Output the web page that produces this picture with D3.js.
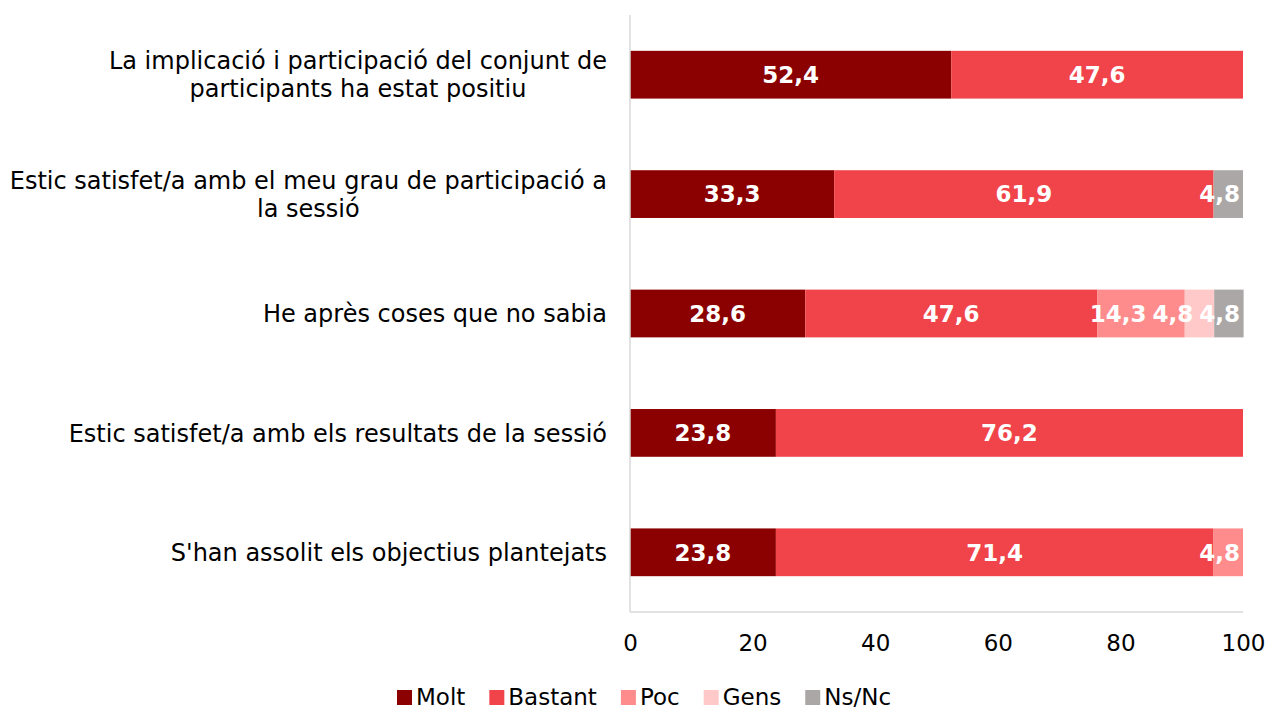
<!DOCTYPE html>
<html>
<head>
    <meta charset="utf-8">
    <title>Valoració de la sessió</title>
    <script src="https://cdnjs.cloudflare.com/ajax/libs/d3/7.8.5/d3.min.js"></script>
    <style>
        body { margin: 0; background: #fff; font-family: "DejaVu Sans", Verdana, sans-serif; }
        .cat-label { font-size: 24px; fill: #000; }
        .val-label { font-size: 23px; font-weight: bold; fill: #fff; }
        .tick text { font-size: 23px; fill: #000; font-family: "DejaVu Sans", sans-serif; }
        .legend-text { font-size: 23px; fill: #000; }
    </style>
</head>
<body>
    <div id="chart"></div>
    <script>
        // Categories (top to bottom) and series values (%)
        const categories = [
            ["La implicació i participació del conjunt de", "participants ha estat positiu"],
            ["Estic satisfet/a amb el meu grau de participació a", "la sessió"],
            ["He après coses que no sabia"],
            ["Estic satisfet/a amb els resultats de la sessió"],
            ["S'han assolit els objectius plantejats"]
        ];
        const seriesNames = ["Molt", "Bastant", "Poc", "Gens", "Ns/Nc"];
        const seriesColors = ["#8b0000", "#f0444a", "#ff8c8c", "#ffc9c9", "#aba7a7"];
        const molt    = [52.4, 33.3, 28.6, 23.8, 23.8];
        const bastant = [47.6, 61.9, 47.6, 76.2, 71.4];
        const poc     = [0, 0, 14.3, 0, 4.8];
        const gens    = [0, 0, 4.8, 0, 0];
        const nsnc    = [0, 4.8, 4.8, 0, 0];
        const xTicks  = [0, 20, 40, 60, 80, 100];

        const seriesValues = [molt, bastant, poc, gens, nsnc];
        const W = 1269, H = 709;
        const margin = { top: 15, right: 26, bottom: 97, left: 630 };
        const width = W - margin.left - margin.right;
        const height = H - margin.top - margin.bottom;

        const svg = d3.select('#chart').append('svg')
            .attr('width', W).attr('height', H);
        const g = svg.append('g')
            .attr('transform', `translate(${margin.left},${margin.top})`);

        const x = d3.scaleLinear().domain([0, 100]).range([0, width]);
        const y = d3.scaleBand().domain(d3.range(categories.length))
            .range([0, height]).paddingInner(0.6).paddingOuter(0.3);

        // build stacked rows
        const rows = categories.map((c, i) => {
            const r = { idx: i };
            seriesNames.forEach((s, k) => r[s] = seriesValues[k][i]);
            return r;
        });
        const stack = d3.stack().keys(seriesNames)(rows);

        const layers = g.selectAll('.layer').data(stack).enter().append('g')
            .attr('fill', (d, k) => seriesColors[k]);
        layers.selectAll('rect').data(d => d.filter(p => p[1] - p[0] > 0)).enter().append('rect')
            .attr('x', p => x(p[0]))
            .attr('y', p => y(p.data.idx))
            .attr('width', p => x(p[1]) - x(p[0]))
            .attr('height', y.bandwidth());

        // value labels drawn after all rects; kept inside the plot and
        // pushed left when neighbours would collide (like the spreadsheet does)
        const labels = g.append('g');
        const labelGap = 6;
        rows.forEach((r, i) => {
            const items = [];
            stack.forEach(layer => {
                const p = layer[i];
                if (p[1] - p[0] <= 0) return;
                const t = labels.append('text')
                    .attr('class', 'val-label')
                    .attr('y', y(i) + y.bandwidth() / 2)
                    .attr('dy', '0.36em')
                    .attr('text-anchor', 'middle')
                    .text(d3.format('.1f')(p[1] - p[0]).replace('.', ','));
                const w = t.node().getComputedTextLength();
                items.push({ t, w, cx: x((p[0] + p[1]) / 2) });
            });
            let limit = width - 3;
            for (let k = items.length - 1; k >= 0; k--) {
                const it = items[k];
                if (it.cx + it.w / 2 > limit) it.cx = limit - it.w / 2;
                limit = it.cx - it.w / 2 - labelGap;
                it.t.attr('x', it.cx);
            }
        });

        // axes lines
        g.append('line').attr('x1', 0).attr('x2', 0).attr('y1', 0).attr('y2', height)
            .attr('stroke', '#d9d9d9').attr('stroke-width', 1.5);
        g.append('line').attr('x1', 0).attr('x2', width).attr('y1', height).attr('y2', height)
            .attr('stroke', '#d9d9d9').attr('stroke-width', 1.5);

        const xAxis = g.append('g').attr('transform', `translate(0,${height})`)
            .call(d3.axisBottom(x).tickValues(xTicks).tickSize(0).tickPadding(23));
        xAxis.select('.domain').remove();

        // category labels: block right-aligned, lines centred within block
        const labelRight = -23;
        categories.forEach((lines, i) => {
            const cy = y(i) + y.bandwidth() / 2;
            const t = g.append('text').attr('class', 'cat-label')
                .attr('text-anchor', 'middle')
                .attr('y', cy - (lines.length - 1) * 14);
            const spans = lines.map((ln, j) =>
                t.append('tspan').attr('dy', j === 0 ? '0.36em' : 28).text(ln));
            const maxW = d3.max(spans, s => s.node().getComputedTextLength());
            spans.forEach(s => s.attr('x', labelRight - maxW / 2));
        });

        // legend
        const legend = svg.append('g').attr('transform', 'translate(397,697)');
        let lx = 0;
        seriesNames.forEach((s, k) => {
            const item = legend.append('g').attr('transform', `translate(${lx},0)`);
            item.append('rect').attr('x', 0).attr('y', -7).attr('width', 15).attr('height', 15)
                .attr('fill', seriesColors[k]);
            const txt = item.append('text').attr('class', 'legend-text')
                .attr('x', 19).attr('y', 0).attr('dy', '0.36em').text(s);
            lx += 19 + txt.node().getComputedTextLength() + 24;
        });
    </script>
</body>
</html>
